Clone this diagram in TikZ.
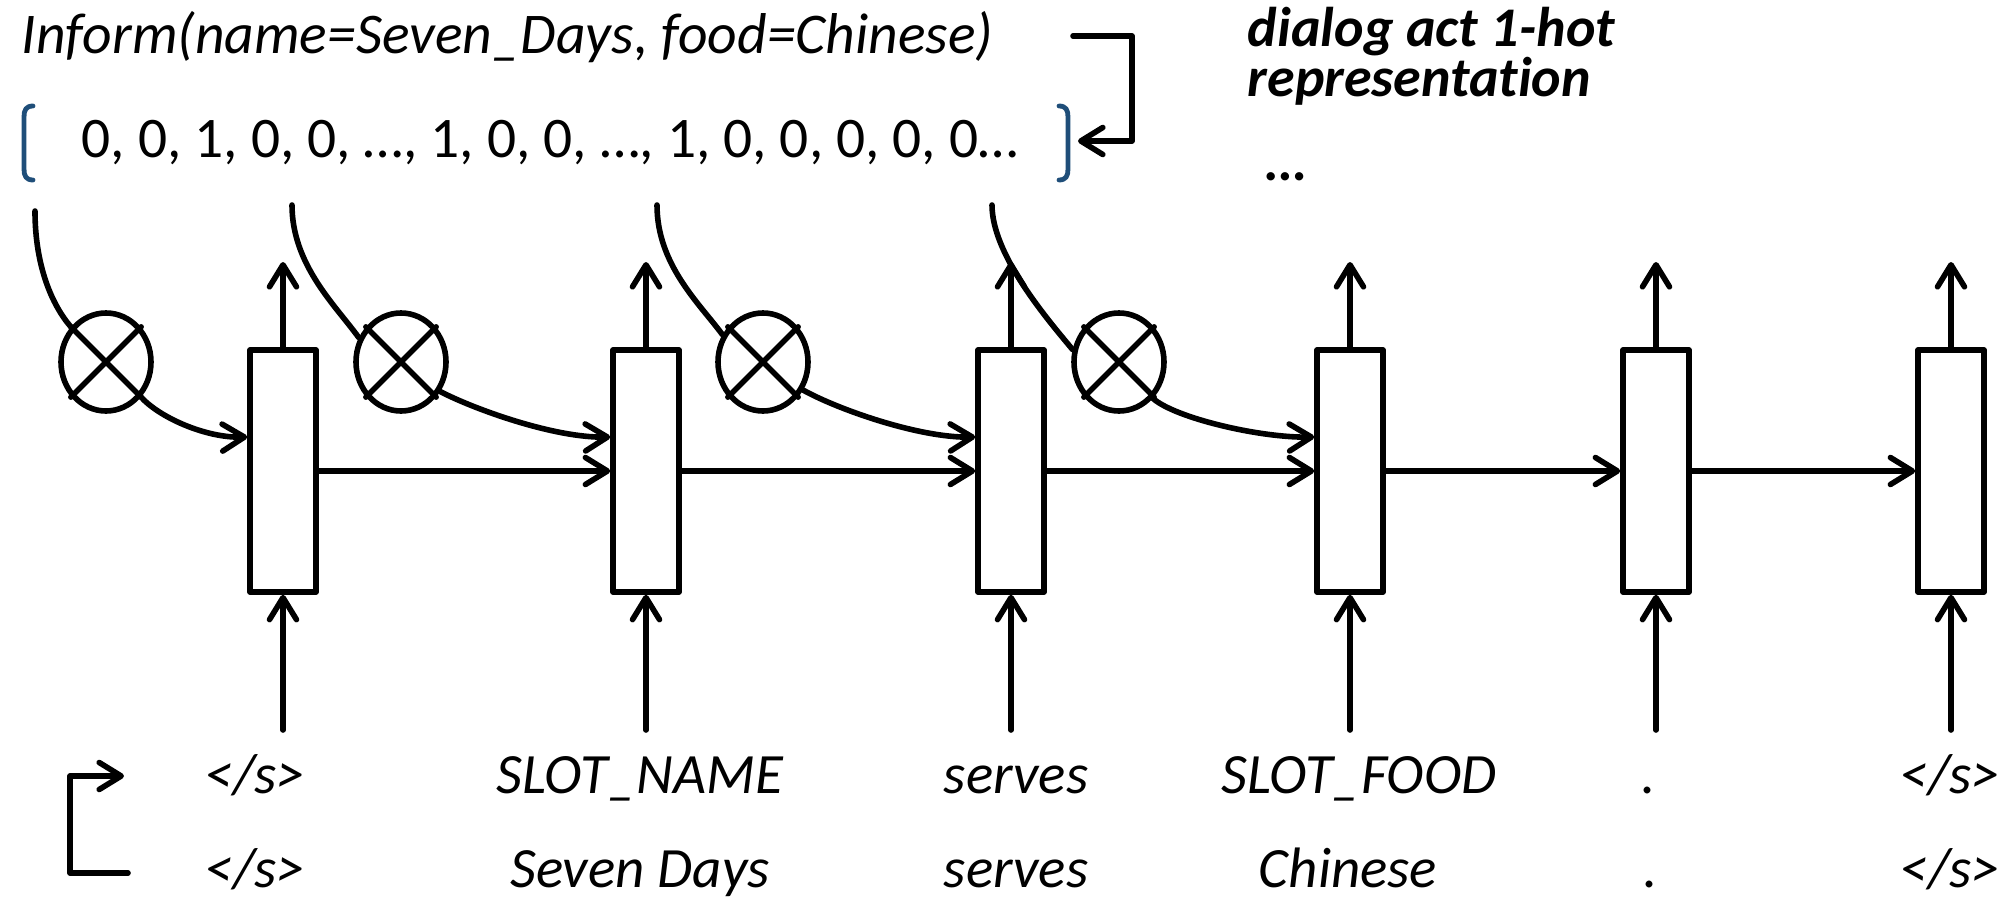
\documentclass[tikz,border=0pt]{standalone}
\usepackage{fontspec}
\setmainfont{Carlito}[Ligatures={NoCommon,NoContextual,NoRequired},RawFeature={-liga;-clig;-calt;-dlig}]
\usetikzlibrary{arrows.meta,shapes.geometric}
\definecolor{bracketblue}{RGB}{31,78,121}
\begin{document}
\begin{tikzpicture}[x=0.5pt,y=-0.5pt,
  line width=2.8pt, line cap=round, line join=round,
  arr/.style={-{Straight Barb[length=11pt,width=13.5pt,line cap=round,line join=round]}},
  cell/.style={draw, rectangle, minimum width=33pt, minimum height=121pt, inner sep=0pt},
  mult/.style={draw, ellipse, minimum width=45pt, minimum height=49pt, inner sep=0pt},
  txt/.style={inner sep=0pt, font=\fontsize{28.7}{34}\selectfont},
  word/.style={txt, font=\itshape\fontsize{28.5}{34}\selectfont, anchor=base},
  note/.style={inner sep=0pt, anchor=base west, font=\bfseries\itshape\fontsize{28}{34}\selectfont},
  brk/.style={draw=bracketblue, line width=2.4pt}
]
\useasboundingbox (0,0) rectangle (2008,899);

% dialog act and its 1-hot vector
\node[txt, font=\itshape\fontsize{28.8}{34}\selectfont, anchor=base west] (act) at (19,54)
  {Inform(name=Seven\_Days, food=Chinese)};
\node[txt, anchor=base west] (vec) at (79,157)
  {0, 0, 1, 0, 0, …, 1, 0, 0, …, 1, 0, 0, 0, 0, 0…};
\draw[brk] (33,106) .. controls (26,106) and (24,110) .. (24,117) -- (24,169)
  .. controls (24,176) and (26,180) .. (33,180);
\draw[brk] (1059,106) .. controls (1066,106) and (1068,110) .. (1068,117) -- (1068,169)
  .. controls (1068,176) and (1066,180) .. (1059,180);

\node[note] (lab1) at (1245,47) {dialog act 1-hot};
\node[note] (lab2) at (1245,97) {representat\kern0pt ion};
\node[note] (lab3) at (1264,180) {…};

% feedback from the act to its vector
\coordinate (fbA) at (1073,36);
\coordinate (fbB) at (1132,36);
\coordinate (fbC) at (1132,141);
\coordinate (fbD) at (1078,141);
\draw[arr] (fbA) -- (fbB) -- (fbC) -- (fbD);

% recurrent cells
\foreach \i/\x in {1/283,2/646,3/1011,4/1350,5/1656,6/1951}{
  \node[cell] (c\i) at (\x,471) {};
  \coordinate (o\i) at (\x,262);
  \coordinate (in\i) at (\x,730);
  \draw[arr] (c\i.north) -- (o\i);
  \draw[arr] (in\i) -- (c\i.south);
}
\foreach \a/\b in {1/2,2/3,3/4,4/5,5/6}{
  \draw[arr] (c\a.east) -- (c\b.west);
}

% gating of the dialog act vector
\foreach \i/\x in {1/106,2/401,3/763,4/1119}{
  \node[mult] (m\i) at (\x,362) {};
  \draw (m\i.45) -- (m\i.-135) (m\i.135) -- (m\i.-45);
}
\coordinate (s1) at (35,211);
\coordinate (s2) at (292,205);
\coordinate (s3) at (657,205);
\coordinate (s4) at (992,205);

\draw (s1) .. controls (35,266) and (52,305) .. (m1.135);
\draw[arr] (m1.-45) .. controls (159,417) and (205,438) .. ([yshift=17pt]c1.west);

\draw (s2) .. controls (292,265) and (336,306) .. (m2.150);
\draw[arr] (m2.-37) .. controls (476,410) and (555,438) .. ([yshift=17pt]c2.west);

\draw (s3) .. controls (657,265) and (700,304) .. (m3.146);
\draw[arr] (m3.-35) .. controls (839,410) and (920,438) .. ([yshift=17pt]c3.west);

\draw (s4) .. controls (992,255) and (1048,320) .. (m4.165);
\draw[arr] (m4.-47) .. controls (1175,418) and (1260,438) .. ([yshift=17pt]c4.west);

% delexicalised and surface word sequences
\foreach \n/\x/\t in {1/255/{</s>},2/640/{SLOT\_NAME},3/1016/{serves},4/1359/{SLOT\_FOOD},5/1649/{.},6/1950/{</s>}}{
  \node[word] (d\n) at (\x,793) {\t};
}
\foreach \n/\x/\t in {1/255/{</s>},2/640/{Seven Days},3/1016/{serves},4/1348/{Chinese},5/1651/{.},6/1950/{</s>}}{
  \node[word] (w\n) at (\x,887) {\t};
}

% lexicalisation loop
\coordinate (lxA) at (128,873);
\coordinate (lxB) at (70,873);
\coordinate (lxC) at (70,776);
\coordinate (lxD) at (124,776);
\draw[arr] (lxA) -- (lxB) -- (lxC) -- (lxD);
\end{tikzpicture}
\end{document}
